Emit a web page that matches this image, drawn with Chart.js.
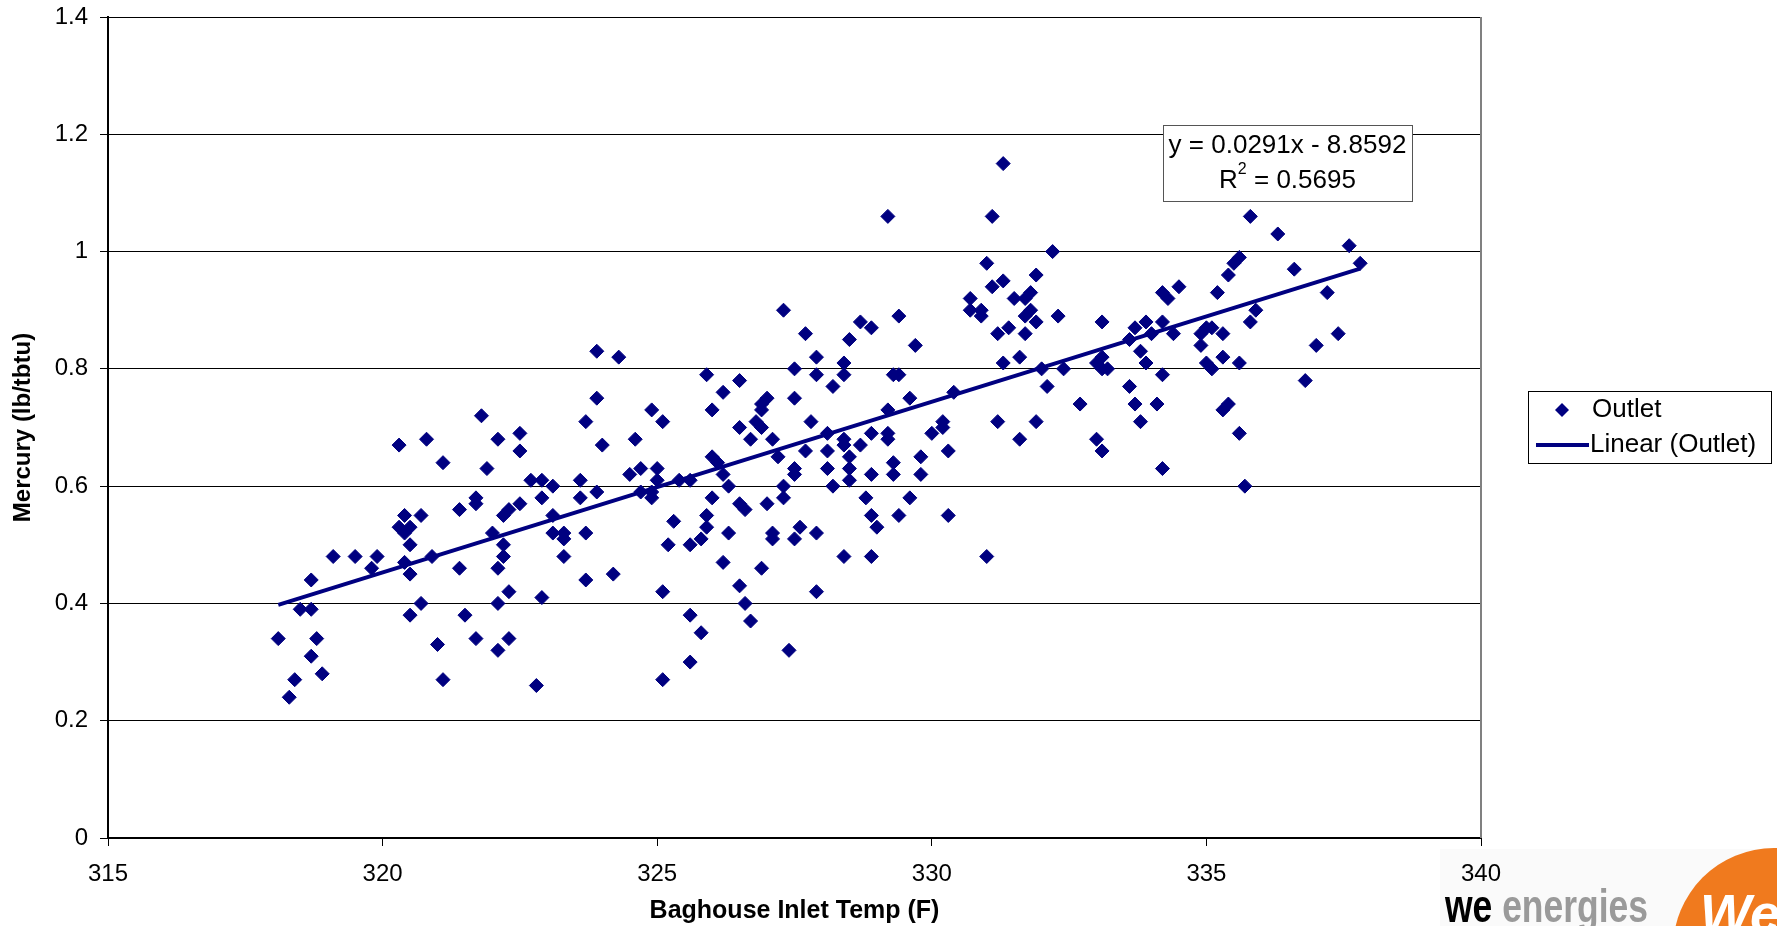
<!DOCTYPE html>
<html>
<head>
<meta charset="utf-8">
<script src="https://cdn.jsdelivr.net/npm/chart.js@4/dist/chart.umd.min.js"></script>
<style>
  html, body { margin: 0; padding: 0; background: #fff; overflow: hidden; }
  canvas { display: block; }
</style>
</head>
<body>
<canvas id="mercury-chart" width="1777" height="926"></canvas>
<script>
// Baghouse inlet temperature (F) for each outlet sample
const outletTemp = [
  318.1, 318.3, 318.4, 318.5, 318.7, 318.7, 318.7, 318.8, 318.9, 319.1, 319.5, 319.8, 319.9,
  320.3, 320.3, 320.4, 320.4, 320.5, 320.5, 320.4, 320.5, 320.5, 320.7, 320.7, 320.8, 320.9,
  321.0, 321.1, 321.1, 321.4, 321.4, 321.5, 321.7, 321.7, 321.7, 321.8, 321.9, 322.0, 322.1,
  322.1, 322.1, 322.1, 322.2, 322.2, 322.2, 322.3, 322.3, 322.3, 322.5, 322.5, 322.5, 322.7,
  322.8, 322.9, 322.9, 322.9, 323.1, 323.1, 323.1, 323.3, 323.3, 323.3, 323.6, 323.6, 323.7,
  323.7, 323.7, 323.9, 323.9, 323.9, 324.0, 324.2, 324.3, 324.5, 324.6, 324.7, 324.7, 324.9,
  324.9, 324.9, 325.0, 325.0, 325.1, 325.1, 325.1, 325.2, 325.3, 325.4, 325.6, 325.6, 325.6,
  325.6, 325.8, 325.8, 325.9, 325.9, 325.9, 326.0, 326.0, 326.0, 326.1, 326.2, 326.2, 326.2,
  326.3, 326.3, 326.5, 326.5, 326.5, 326.5, 326.6, 326.6, 326.7, 326.7, 326.8, 326.9, 326.9,
  326.9, 326.9, 327.0, 327.0, 327.1, 327.1, 327.1, 327.2, 327.3, 327.3, 327.3, 327.4, 327.5,
  327.5, 327.5, 327.5, 327.5, 327.6, 327.7, 327.7, 327.8, 327.9, 327.9, 327.9, 327.9, 328.1,
  328.1, 328.1, 328.2, 328.2, 328.4, 328.4, 328.4, 328.4, 328.5, 328.5, 328.5, 328.5, 328.4,
  328.7, 328.7, 328.8, 328.9, 328.9, 328.9, 328.9, 328.9, 329.0, 329.2, 329.2, 329.2, 329.2,
  329.3, 329.3, 329.3, 329.4, 329.4, 329.4, 329.6, 329.6, 329.7, 329.8, 329.8, 330.0, 330.2,
  330.2, 330.3, 330.3, 330.4, 330.7, 330.7, 330.9, 330.9, 331.0, 331.0, 331.1, 331.1, 331.2,
  331.2, 331.3, 331.3, 331.3, 331.4, 331.5, 331.6, 331.6, 331.7, 331.7, 331.7, 331.8, 331.8,
  331.9, 331.9, 331.9, 332.0, 332.1, 332.2, 332.3, 332.4, 332.7, 333.0, 333.0, 333.1, 333.1,
  333.1, 333.1, 333.2, 333.6, 333.6, 333.7, 333.7, 333.8, 333.8, 333.9, 333.9, 334.0, 334.1,
  334.2, 334.2, 334.2, 334.2, 334.3, 334.4, 334.5, 334.9, 334.9, 335.0, 335.0, 335.1, 335.1,
  335.2, 335.3, 335.3, 335.3, 335.4, 335.4, 335.5, 335.6, 335.6, 335.6, 335.7, 335.8, 335.8,
  335.9, 336.3, 336.6, 336.8, 337.0, 337.2, 337.4, 337.6, 337.8
];

// Mercury (lb/tbtu), same order as outletTemp
const outletMercury = [
  0.34, 0.24, 0.27, 0.39, 0.39, 0.44, 0.31, 0.34, 0.28, 0.48, 0.48, 0.46, 0.48,
  0.67, 0.53, 0.52, 0.55, 0.53, 0.50, 0.47, 0.45, 0.38, 0.55, 0.40, 0.68, 0.48,
  0.33, 0.64, 0.27, 0.56, 0.46, 0.38, 0.58, 0.57, 0.34, 0.72, 0.63, 0.52, 0.68,
  0.32, 0.40, 0.46, 0.55, 0.48, 0.50, 0.56, 0.42, 0.34, 0.69, 0.66, 0.57, 0.61,
  0.26, 0.41, 0.61, 0.58, 0.60, 0.55, 0.52, 0.51, 0.52, 0.48, 0.61, 0.58, 0.71,
  0.52, 0.44, 0.83, 0.75, 0.59, 0.67, 0.45, 0.82, 0.62, 0.68, 0.59, 0.63, 0.73,
  0.59, 0.58, 0.63, 0.61, 0.71, 0.42, 0.27, 0.50, 0.54, 0.61, 0.61, 0.50, 0.38,
  0.30, 0.51, 0.35, 0.79, 0.55, 0.53, 0.73, 0.65, 0.58, 0.64, 0.76, 0.62, 0.47,
  0.52, 0.60, 0.78, 0.70, 0.57, 0.43, 0.56, 0.40, 0.68, 0.37, 0.71, 0.74, 0.73,
  0.70, 0.46, 0.75, 0.57, 0.68, 0.52, 0.51, 0.65, 0.90, 0.58, 0.60, 0.32, 0.80,
  0.75, 0.63, 0.62, 0.51, 0.53, 0.86, 0.66, 0.71, 0.82, 0.79, 0.52, 0.42, 0.69,
  0.66, 0.63, 0.77, 0.60, 0.81, 0.79, 0.68, 0.67, 0.85, 0.65, 0.63, 0.61, 0.48,
  0.88, 0.67, 0.58, 0.87, 0.55, 0.48, 0.62, 0.69, 0.53, 1.06, 0.73, 0.69, 0.68,
  0.79, 0.62, 0.64, 0.89, 0.79, 0.55, 0.58, 0.75, 0.84, 0.65, 0.62, 0.69, 0.70,
  0.71, 0.55, 0.66, 0.76, 0.92, 0.90, 0.89, 0.90, 0.98, 0.48, 1.06, 0.94, 0.86,
  0.71, 1.15, 0.95, 0.81, 0.87, 0.92, 0.82, 0.68, 0.92, 0.89, 0.86, 0.90, 0.93,
  0.96, 0.88, 0.71, 0.80, 0.77, 1.00, 0.89, 0.80, 0.74, 0.81, 0.68, 0.88, 0.66,
  0.80, 0.82, 0.80, 0.85, 0.77, 0.87, 0.74, 0.83, 0.71, 0.88, 0.81, 0.86, 0.74,
  0.93, 0.88, 0.79, 0.63, 0.92, 0.86, 0.94, 0.86, 0.84, 0.81, 0.87, 0.80, 0.87,
  0.93, 0.86, 0.82, 0.73, 0.96, 0.74, 0.98, 0.99, 0.81, 0.69, 0.60, 1.06, 0.88,
  0.90, 1.03, 0.97, 0.78, 0.84, 0.93, 0.86, 1.01, 0.98
];

// trendline as printed on the chart
const trendSlope = 0.0291;
const trendIntercept = -8.8592;
const trendR2 = 0.5695;

const xTicks = [315, 320, 325, 330, 335, 340];
const yTicks = [0, 0.2, 0.4, 0.6, 0.8, 1, 1.2, 1.4];

const NAVY = '#000080';
const FONT = '"Liberation Sans", Arial, sans-serif';

const points = outletTemp.map((t, i) => ({ x: t, y: outletMercury[i] }));
const tMin = Math.min(...outletTemp);
const tMax = Math.max(...outletTemp);
const trendPoints = [tMin, tMax].map(t => ({ x: t, y: trendSlope * t + trendIntercept }));

function drawLogo(ctx) {
  ctx.save();
  ctx.fillStyle = '#fafafa';
  ctx.fillRect(1440, 849, 337, 77);
  ctx.fillStyle = '#f07a1e';
  ctx.beginPath();
  ctx.arc(1774, 949, 101, 0, Math.PI * 2);
  ctx.fill();
  ctx.fillStyle = '#fff';
  ctx.font = 'italic bold 54px ' + FONT;
  ctx.textBaseline = 'alphabetic';
  ctx.fillText('We', 1700, 932);
  // condensed wordmark
  ctx.font = 'bold 46px ' + FONT;
  const wWe = ctx.measureText('we ').width;
  const wAll = ctx.measureText('we energies').width;
  const k = 203 / wAll;
  ctx.translate(1445, 922);
  ctx.scale(k, 1);
  ctx.fillStyle = '#000';
  ctx.fillText('we', 0, 0);
  ctx.fillStyle = '#9a9a9a';
  ctx.fillText('energies', wWe, 0);
  ctx.restore();
}

const extras = {
  id: 'extras',
  beforeDraw(chart) {
    const ctx = chart.ctx;
    ctx.save();
    ctx.fillStyle = '#fff';
    ctx.fillRect(0, 0, chart.width, chart.height);
    ctx.restore();
    drawLogo(ctx);
  },
  afterDatasetsDraw(chart) {
    const ctx = chart.ctx;
    const a = chart.chartArea;
    ctx.save();
    // grey frame on the right side of the plot
    ctx.strokeStyle = '#808080';
    ctx.lineWidth = 2;
    ctx.beginPath();
    ctx.moveTo(a.right, a.top);
    ctx.lineTo(a.right, a.bottom);
    ctx.stroke();

    // equation box
    const bx = a.right - 318, by = 125, bw = 249, bh = 76;
    ctx.fillStyle = '#fff';
    ctx.fillRect(bx, by, bw, bh);
    ctx.strokeStyle = '#555';
    ctx.lineWidth = 1;
    ctx.strokeRect(bx + 0.5, by + 0.5, bw, bh);
    ctx.fillStyle = '#000';
    ctx.font = '26px ' + FONT;
    ctx.textAlign = 'center';
    ctx.textBaseline = 'middle';
    const sign = trendIntercept < 0 ? ' - ' : ' + ';
    ctx.fillText('y = ' + trendSlope + 'x' + sign + Math.abs(trendIntercept), bx + bw / 2, by + 21);
    const r2 = ' = ' + trendR2;
    const wR = ctx.measureText('R').width;
    const wRest = ctx.measureText(r2).width;
    ctx.font = '16px ' + FONT;
    const wSup = ctx.measureText('2').width;
    const sx = bx + bw / 2 - (wR + wSup + wRest) / 2;
    ctx.textAlign = 'left';
    ctx.font = '26px ' + FONT;
    ctx.fillText('R', sx, by + 56);
    ctx.font = '16px ' + FONT;
    ctx.fillText('2', sx + wR, by + 45);
    ctx.font = '26px ' + FONT;
    ctx.fillText(r2, sx + wR + wSup, by + 56);

    // legend
    const lx = 1528, ly = 391, lw = 243, lh = 72;
    ctx.strokeStyle = '#000';
    ctx.lineWidth = 1;
    ctx.strokeRect(lx + 0.5, ly + 0.5, lw, lh);
    const ds = chart.data.datasets;
    ctx.fillStyle = NAVY;
    ctx.beginPath();
    ctx.moveTo(lx + 34, ly + 12);
    ctx.lineTo(lx + 41, ly + 19);
    ctx.lineTo(lx + 34, ly + 26);
    ctx.lineTo(lx + 27, ly + 19);
    ctx.closePath();
    ctx.fill();
    ctx.strokeStyle = NAVY;
    ctx.lineWidth = 4;
    ctx.beginPath();
    ctx.moveTo(lx + 8, ly + 54);
    ctx.lineTo(lx + 61, ly + 54);
    ctx.stroke();
    ctx.fillStyle = '#000';
    ctx.font = '26px ' + FONT;
    ctx.textAlign = 'left';
    ctx.textBaseline = 'middle';
    ctx.fillText(ds[0].label, lx + 64, ly + 19);
    ctx.fillText(ds[1].label, lx + 62, ly + 54);
    ctx.restore();
  }
};

new Chart(document.getElementById('mercury-chart'), {
  type: 'scatter',
  data: {
    datasets: [{
      label: 'Outlet',
      data: points,
      pointStyle: 'rectRot',
      pointRadius: 7,
      pointHoverRadius: 7,
      backgroundColor: NAVY,
      borderColor: NAVY,
      borderWidth: 1,
      order: 2
    }, {
      type: 'line',
      label: 'Linear (Outlet)',
      data: trendPoints,
      borderColor: NAVY,
      borderWidth: 4,
      pointRadius: 0,
      fill: false,
      order: 1
    }]
  },
  options: {
    responsive: false,
    animation: false,
    devicePixelRatio: 1,
    layout: { padding: { top: 17, right: 296, bottom: 0, left: 0 } },
    plugins: {
      legend: { display: false },
      tooltip: { enabled: false }
    },
    scales: {
      x: {
        type: 'linear',
        min: xTicks[0],
        max: xTicks[xTicks.length - 1],
        afterBuildTicks: s => { s.ticks = xTicks.map(v => ({ value: v })); },
        afterFit: s => { s.height = 88; s.paddingLeft = 0; s.paddingRight = 0; },
        border: { color: '#000', width: 2 },
        grid: { drawOnChartArea: false, drawTicks: true, tickLength: 8, color: '#000' },
        ticks: { color: '#000', font: { family: FONT, size: 24 }, padding: 14, maxRotation: 0 },
        title: {
          display: true,
          text: 'Baghouse Inlet Temp (F)',
          color: '#000',
          font: { family: FONT, size: 25, weight: 'bold' },
          padding: { top: 0, bottom: 0 }
        }
      },
      y: {
        min: yTicks[0],
        max: yTicks[yTicks.length - 1],
        afterBuildTicks: s => { s.ticks = yTicks.map(v => ({ value: v })); },
        afterFit: s => { s.width = 108; s.paddingTop = 0; s.paddingBottom = 0; },
        border: { color: '#000', width: 2 },
        grid: { color: '#000', lineWidth: 1, tickLength: 8 },
        ticks: {
          color: '#000',
          font: { family: FONT, size: 24 },
          padding: 12,
          callback: v => String(+v.toFixed(1))
        },
        title: {
          display: true,
          text: 'Mercury (lb/tbtu)',
          color: '#000',
          font: { family: FONT, size: 24, weight: 'bold' },
          padding: { top: 9, bottom: 0 }
        }
      }
    }
  },
  plugins: [extras]
});
</script>
</body>
</html>
